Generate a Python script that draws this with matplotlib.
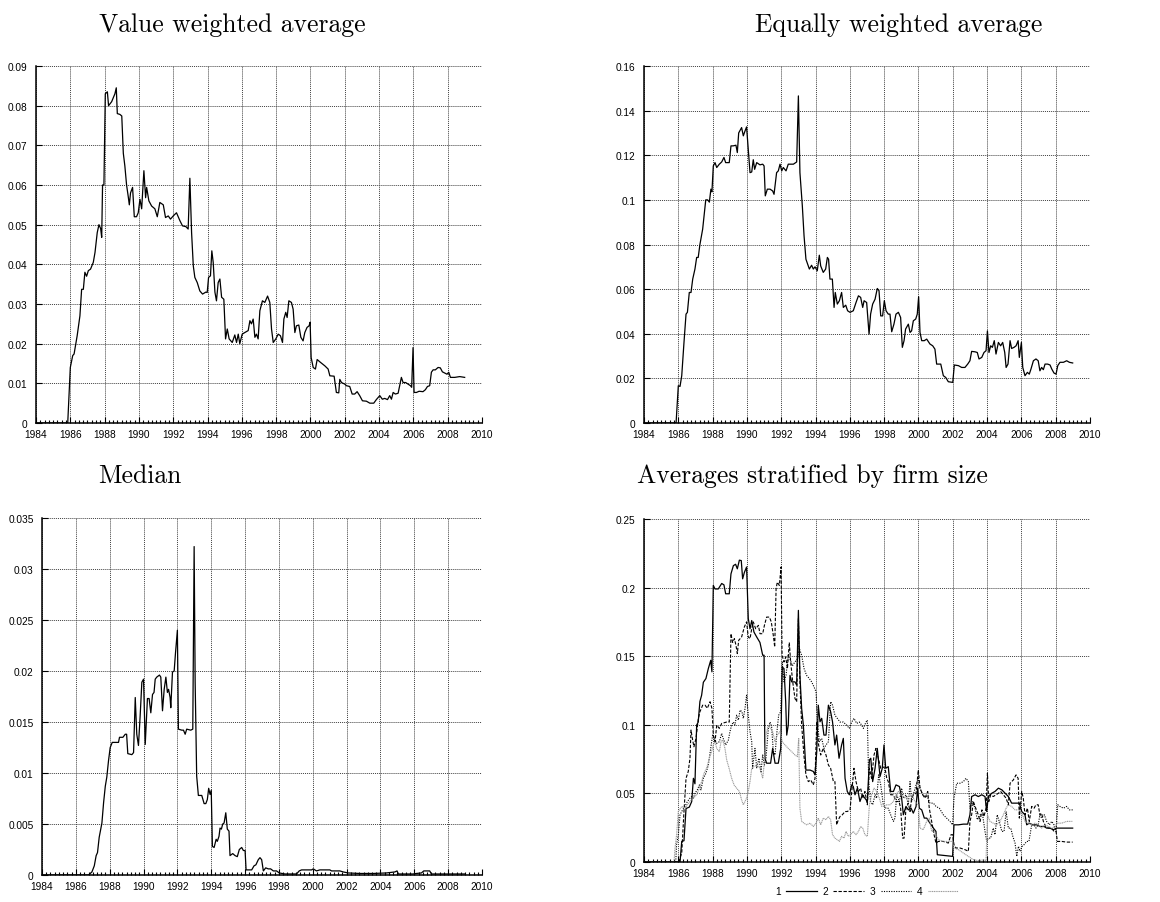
import matplotlib
matplotlib.use("Agg")
import matplotlib.pyplot as plt
from matplotlib.ticker import MultipleLocator, FormatStrFormatter, FuncFormatter

plt.rcParams['font.family'] = ['Liberation Sans', 'DejaVu Sans']

# (year, value) readings for each series
vw_points = [
    (1984.0, 0.0), (1985.85, 0.0), (1986.0, 0.014), (1986.14, 0.017), (1986.22, 0.0174),
    (1986.4, 0.022), (1986.56, 0.027), (1986.66, 0.0337), (1986.76, 0.0337), (1986.85, 0.038),
    (1986.95, 0.037), (1987.05, 0.0384), (1987.18, 0.0388), (1987.34, 0.0405), (1987.44, 0.043),
    (1987.57, 0.048), (1987.67, 0.050), (1987.77, 0.049), (1987.83, 0.0468), (1987.88, 0.060),
    (1987.96, 0.060), (1988.04, 0.083), (1988.16, 0.0835), (1988.23, 0.080), (1988.41, 0.081),
    (1988.6, 0.083), (1988.68, 0.0845), (1988.74, 0.078), (1988.89, 0.0778), (1989.0, 0.0774),
    (1989.09, 0.068), (1989.18, 0.0648), (1989.28, 0.060), (1989.38, 0.057), (1989.44, 0.055),
    (1989.51, 0.058), (1989.63, 0.0594), (1989.73, 0.052), (1989.86, 0.052), (1989.96, 0.053),
    (1990.06, 0.0564), (1990.16, 0.054), (1990.29, 0.0636), (1990.39, 0.0568), (1990.45, 0.0594),
    (1990.58, 0.056), (1990.74, 0.0547), (1990.93, 0.054), (1991.07, 0.052), (1991.22, 0.0556),
    (1991.42, 0.055), (1991.55, 0.0518), (1991.71, 0.0522), (1991.84, 0.0514), (1992.0, 0.0522),
    (1992.19, 0.053), (1992.39, 0.051), (1992.54, 0.0497), (1992.74, 0.0495), (1992.87, 0.0489),
    (1992.97, 0.0617), (1993.07, 0.048), (1993.17, 0.0396), (1993.26, 0.0367), (1993.4, 0.0354),
    (1993.55, 0.0333), (1993.71, 0.0325), (1993.9, 0.033), (1993.98, 0.0329), (1994.06, 0.0367),
    (1994.17, 0.0371), (1994.25, 0.0434), (1994.33, 0.0405), (1994.43, 0.033), (1994.52, 0.0308),
    (1994.62, 0.0354), (1994.72, 0.0363), (1994.82, 0.0317), (1994.95, 0.0312), (1995.05, 0.0212),
    (1995.15, 0.0237), (1995.26, 0.0212), (1995.44, 0.0203), (1995.59, 0.0222), (1995.69, 0.0203),
    (1995.79, 0.0224), (1995.88, 0.020), (1996.02, 0.0224), (1996.17, 0.0228), (1996.37, 0.0233),
    (1996.47, 0.0258), (1996.56, 0.025), (1996.66, 0.0262), (1996.76, 0.0216), (1996.85, 0.0224),
    (1996.95, 0.0212), (1997.05, 0.0283), (1997.2, 0.0308), (1997.34, 0.0304), (1997.5, 0.032),
    (1997.63, 0.0304), (1997.73, 0.0237), (1997.83, 0.0203), (1997.98, 0.0212), (1998.12, 0.0224),
    (1998.25, 0.022), (1998.37, 0.0203), (1998.45, 0.0262), (1998.56, 0.0279), (1998.64, 0.0266),
    (1998.74, 0.0308), (1998.89, 0.0304), (1998.99, 0.0287), (1999.09, 0.0228), (1999.18, 0.0245),
    (1999.32, 0.0247), (1999.44, 0.0216), (1999.57, 0.0207), (1999.67, 0.0228), (1999.8, 0.0241),
    (1999.92, 0.0245), (1999.98, 0.0254), (2000.04, 0.0165), (2000.16, 0.014), (2000.29, 0.0136),
    (2000.39, 0.016), (2000.58, 0.0153), (2000.84, 0.0144), (2001.03, 0.0136), (2001.13, 0.0119),
    (2001.38, 0.0118), (2001.51, 0.0077), (2001.65, 0.0076), (2001.71, 0.011), (2001.81, 0.0102),
    (2002.0, 0.0098), (2002.1, 0.0094), (2002.29, 0.0092), (2002.43, 0.0073), (2002.58, 0.0073),
    (2002.72, 0.0079), (2002.87, 0.0069), (2003.03, 0.0056), (2003.26, 0.0055), (2003.46, 0.005),
    (2003.69, 0.005), (2003.84, 0.0059), (2004.04, 0.0069), (2004.19, 0.006), (2004.33, 0.0062),
    (2004.49, 0.0059), (2004.62, 0.0069), (2004.72, 0.006), (2004.82, 0.0077), (2004.95, 0.0073),
    (2005.11, 0.0075), (2005.2, 0.0094), (2005.3, 0.0115), (2005.4, 0.0102), (2005.55, 0.0102),
    (2005.69, 0.0098), (2005.83, 0.0094), (2005.9, 0.009), (2005.98, 0.019), (2006.04, 0.0077),
    (2006.18, 0.0077), (2006.33, 0.008), (2006.56, 0.0079), (2006.7, 0.0084), (2006.82, 0.0092),
    (2006.95, 0.0094), (2007.05, 0.0128), (2007.15, 0.0134), (2007.28, 0.0134), (2007.44, 0.014),
    (2007.57, 0.0139), (2007.69, 0.0129), (2007.83, 0.0126), (2007.96, 0.0123), (2008.06, 0.0128),
    (2008.16, 0.0115), (2008.41, 0.0115), (2008.7, 0.0117), (2008.99, 0.0115),
]

ew_points = [
    (1984.0, 0.0), (1985.87, 0.0), (1986.0, 0.0167), (1986.1, 0.0164), (1986.2, 0.0212),
    (1986.33, 0.036), (1986.45, 0.0488), (1986.53, 0.0496), (1986.64, 0.0585), (1986.74, 0.0585),
    (1986.84, 0.0645), (1986.97, 0.069), (1987.07, 0.0742), (1987.16, 0.0742), (1987.26, 0.080),
    (1987.42, 0.0869), (1987.5, 0.0928), (1987.6, 0.100), (1987.71, 0.100), (1987.81, 0.099),
    (1987.9, 0.1048), (1987.96, 0.1036), (1988.04, 0.1152), (1988.14, 0.1167), (1988.24, 0.1145),
    (1988.39, 0.116), (1988.53, 0.117), (1988.66, 0.119), (1988.76, 0.1167), (1988.97, 0.1167),
    (1989.07, 0.1242), (1989.2, 0.1242), (1989.36, 0.1245), (1989.44, 0.1212), (1989.52, 0.130),
    (1989.69, 0.1324), (1989.79, 0.1287), (1989.89, 0.1309), (1989.98, 0.1327), (1990.08, 0.1227),
    (1990.18, 0.1122), (1990.28, 0.1125), (1990.37, 0.118), (1990.45, 0.1137), (1990.57, 0.1167),
    (1990.76, 0.1157), (1990.92, 0.116), (1991.0, 0.1152), (1991.07, 0.1018), (1991.19, 0.1048),
    (1991.35, 0.1048), (1991.5, 0.104), (1991.58, 0.1025), (1991.73, 0.1122), (1991.83, 0.113),
    (1991.93, 0.116), (1992.03, 0.113), (1992.12, 0.1145), (1992.28, 0.113), (1992.41, 0.116),
    (1992.71, 0.116), (1992.9, 0.117), (1993.0, 0.1466), (1993.09, 0.1122), (1993.23, 0.0973),
    (1993.33, 0.0839), (1993.44, 0.0734), (1993.54, 0.0712), (1993.64, 0.069), (1993.77, 0.0707),
    (1993.87, 0.069), (1993.97, 0.070), (1994.1, 0.0682), (1994.22, 0.0752), (1994.3, 0.0704),
    (1994.45, 0.0675), (1994.59, 0.069), (1994.69, 0.0742), (1994.76, 0.0734), (1994.84, 0.0645),
    (1994.98, 0.0645), (1995.08, 0.0518), (1995.15, 0.0585), (1995.27, 0.0533), (1995.39, 0.0548),
    (1995.52, 0.0585), (1995.62, 0.0518), (1995.76, 0.0528), (1995.87, 0.0503), (1996.01, 0.0496),
    (1996.2, 0.0503), (1996.36, 0.054), (1996.5, 0.057), (1996.63, 0.0563), (1996.75, 0.0518),
    (1996.83, 0.0548), (1996.98, 0.054), (1997.12, 0.0398), (1997.21, 0.0488), (1997.33, 0.0533),
    (1997.47, 0.0555), (1997.6, 0.0603), (1997.7, 0.0593), (1997.8, 0.048), (1997.91, 0.048),
    (1998.01, 0.0548), (1998.11, 0.0503), (1998.24, 0.0488), (1998.34, 0.0488), (1998.44, 0.0409),
    (1998.57, 0.0443), (1998.69, 0.0488), (1998.83, 0.0496), (1998.96, 0.0473), (1999.06, 0.0339),
    (1999.16, 0.0369), (1999.25, 0.0421), (1999.41, 0.0443), (1999.51, 0.0406), (1999.6, 0.0413),
    (1999.7, 0.0458), (1999.84, 0.0466), (1999.93, 0.0488), (2000.01, 0.0566), (2000.09, 0.0406),
    (2000.19, 0.0369), (2000.34, 0.0369), (2000.48, 0.0376), (2000.67, 0.0354), (2000.83, 0.0346),
    (2000.96, 0.0331), (2001.06, 0.0264), (2001.3, 0.0264), (2001.45, 0.0212), (2001.59, 0.0204),
    (2001.74, 0.0185), (2002.0, 0.0182), (2002.09, 0.026), (2002.33, 0.0257), (2002.52, 0.0249),
    (2002.71, 0.0249), (2002.87, 0.0264), (2003.0, 0.0279), (2003.1, 0.0321), (2003.3, 0.0319),
    (2003.43, 0.0316), (2003.53, 0.0287), (2003.69, 0.0294), (2003.82, 0.0316), (2003.94, 0.0324),
    (2004.02, 0.0413), (2004.11, 0.0316), (2004.21, 0.0346), (2004.31, 0.0339), (2004.42, 0.0369),
    (2004.52, 0.0309), (2004.66, 0.0361), (2004.79, 0.0346), (2004.91, 0.0361), (2005.03, 0.0316),
    (2005.11, 0.0249), (2005.22, 0.0264), (2005.34, 0.0369), (2005.43, 0.0334), (2005.57, 0.0339),
    (2005.69, 0.0346), (2005.81, 0.0369), (2005.88, 0.0294), (2006.0, 0.0361), (2006.08, 0.0249),
    (2006.21, 0.0212), (2006.35, 0.0227), (2006.46, 0.0219), (2006.56, 0.0242), (2006.7, 0.0279),
    (2006.85, 0.0287), (2006.98, 0.0279), (2007.08, 0.0234), (2007.18, 0.0249), (2007.28, 0.0239),
    (2007.38, 0.0264), (2007.53, 0.0264), (2007.67, 0.026), (2007.77, 0.0242), (2007.9, 0.0224),
    (2008.02, 0.0219), (2008.12, 0.0257), (2008.25, 0.0272), (2008.45, 0.0272), (2008.64, 0.0279),
    (2008.8, 0.0272), (2008.99, 0.0269),
]

med_points = [
    (1984.0, 0.0), (1986.75, 0.0), (1986.95, 0.0003), (1987.09, 0.0009), (1987.2, 0.0019),
    (1987.28, 0.0022), (1987.38, 0.0037), (1987.54, 0.0051), (1987.64, 0.0071), (1987.74, 0.0087),
    (1987.83, 0.0096), (1987.93, 0.0112), (1988.03, 0.0125), (1988.15, 0.013), (1988.39, 0.013),
    (1988.52, 0.013), (1988.58, 0.0135), (1988.78, 0.0135), (1988.92, 0.0138), (1989.0, 0.0138),
    (1989.07, 0.0119), (1989.31, 0.0118), (1989.41, 0.012), (1989.51, 0.0174), (1989.6, 0.0138),
    (1989.7, 0.0127), (1989.8, 0.0156), (1989.9, 0.0189), (1990.0, 0.0192), (1990.1, 0.0128),
    (1990.23, 0.0173), (1990.33, 0.0173), (1990.43, 0.0159), (1990.53, 0.0177), (1990.62, 0.0179),
    (1990.69, 0.0192), (1990.78, 0.0194), (1990.94, 0.0196), (1991.02, 0.0194), (1991.12, 0.0161),
    (1991.22, 0.0182), (1991.32, 0.0194), (1991.41, 0.0179), (1991.48, 0.0182), (1991.57, 0.0174),
    (1991.61, 0.0164), (1991.71, 0.0199), (1991.81, 0.020), (1991.89, 0.0218), (1992.0, 0.024),
    (1992.06, 0.0143), (1992.26, 0.0142), (1992.36, 0.0142), (1992.46, 0.0138), (1992.55, 0.0143),
    (1992.79, 0.0142), (1992.91, 0.0143), (1992.99, 0.0322), (1993.05, 0.0189), (1993.14, 0.0097),
    (1993.24, 0.0078), (1993.44, 0.0078), (1993.58, 0.007), (1993.68, 0.007), (1993.77, 0.0074),
    (1993.85, 0.0085), (1993.93, 0.0079), (1994.0, 0.0083), (1994.07, 0.0028), (1994.17, 0.0027),
    (1994.29, 0.0035), (1994.36, 0.0033), (1994.46, 0.0038), (1994.52, 0.0046), (1994.6, 0.0045),
    (1994.68, 0.005), (1994.76, 0.0051), (1994.86, 0.0061), (1994.95, 0.0045), (1995.05, 0.0043),
    (1995.11, 0.0019), (1995.27, 0.0021), (1995.41, 0.0019), (1995.54, 0.0018), (1995.66, 0.0025),
    (1995.8, 0.0027), (1995.9, 0.0024), (1996.0, 0.0024), (1996.06, 0.0005), (1996.39, 0.0005),
    (1996.53, 0.0009), (1996.64, 0.001), (1996.78, 0.0015), (1996.88, 0.0017), (1996.98, 0.0015),
    (1997.08, 0.0004), (1997.22, 0.0007), (1997.37, 0.0006), (1997.51, 0.0006), (1997.67, 0.0004),
    (1997.86, 0.0004), (1998.02, 0.0002), (1998.36, 0.0001), (1999.04, 0.0001), (1999.2, 0.0004),
    (1999.34, 0.0005), (1999.63, 0.0005), (1999.93, 0.0005), (2000.03, 0.0006), (2000.22, 0.0004),
    (2000.42, 0.0005), (2000.91, 0.0005), (2001.01, 0.0005), (2001.11, 0.0004), (2001.6, 0.0004),
    (2001.8, 0.0003), (2002.09, 0.0002), (2002.78, 0.00015), (2003.57, 0.00015), (2004.35, 0.0002),
    (2004.85, 0.0003), (2004.98, 0.0004), (2005.06, 0.0001), (2005.93, 0.0001), (2006.12, 0.00015),
    (2006.42, 0.0002), (2006.56, 0.0004), (2006.91, 0.0004), (2007.01, 0.0001), (2008.98, 0.0001),
]

size1_points = [
    (1984.0, 0.0), (1986.1, 0.0), (1986.2, 0.015), (1986.33, 0.0155), (1986.45, 0.039),
    (1986.64, 0.040), (1986.78, 0.044), (1986.88, 0.061), (1986.97, 0.057), (1987.07, 0.0998),
    (1987.16, 0.102), (1987.26, 0.117), (1987.36, 0.1216), (1987.46, 0.131), (1987.61, 0.1337),
    (1987.75, 0.141), (1987.89, 0.147), (1987.96, 0.1386), (1988.04, 0.2016), (1988.14, 0.199),
    (1988.33, 0.199), (1988.53, 0.203), (1988.66, 0.202), (1988.76, 0.1955), (1988.97, 0.1955),
    (1989.07, 0.21), (1989.21, 0.216), (1989.34, 0.217), (1989.44, 0.2137), (1989.56, 0.220),
    (1989.67, 0.2197), (1989.75, 0.2064), (1989.85, 0.211), (1989.98, 0.215), (1990.08, 0.1773),
    (1990.18, 0.170), (1990.28, 0.176), (1990.41, 0.1676), (1990.57, 0.164), (1990.76, 0.160),
    (1990.92, 0.1507), (1991.0, 0.1507), (1991.05, 0.0756), (1991.15, 0.072), (1991.38, 0.072),
    (1991.5, 0.0828), (1991.64, 0.072), (1991.83, 0.072), (1991.97, 0.0828), (1992.06, 0.142),
    (1992.16, 0.141), (1992.26, 0.1168), (1992.32, 0.0925), (1992.41, 0.0998), (1992.51, 0.136),
    (1992.61, 0.1313), (1992.8, 0.1313), (1992.9, 0.129), (1993.0, 0.1834), (1993.09, 0.136),
    (1993.19, 0.112), (1993.29, 0.0998), (1993.44, 0.067), (1993.68, 0.067), (1993.87, 0.066),
    (1993.97, 0.0635), (1994.07, 0.0804), (1994.16, 0.1143), (1994.26, 0.1022), (1994.36, 0.1047),
    (1994.49, 0.0925), (1994.61, 0.0925), (1994.75, 0.1143), (1994.88, 0.1095), (1994.99, 0.1022),
    (1995.13, 0.0853), (1995.23, 0.0925), (1995.37, 0.0756), (1995.52, 0.0853), (1995.62, 0.0901),
    (1995.72, 0.061), (1995.85, 0.0514), (1995.97, 0.049), (1996.11, 0.0562), (1996.2, 0.055),
    (1996.3, 0.049), (1996.44, 0.0538), (1996.59, 0.0441), (1996.73, 0.049), (1996.88, 0.0465),
    (1997.02, 0.0441), (1997.14, 0.0744), (1997.22, 0.0756), (1997.33, 0.0586), (1997.47, 0.0683),
    (1997.6, 0.0828), (1997.76, 0.0623), (1997.89, 0.0683), (1997.99, 0.0853), (1998.09, 0.0683),
    (1998.24, 0.0695), (1998.38, 0.0514), (1998.54, 0.0514), (1998.69, 0.0562), (1998.89, 0.055),
    (1999.02, 0.0465), (1999.12, 0.0344), (1999.27, 0.0405), (1999.41, 0.038), (1999.57, 0.0392),
    (1999.7, 0.0356), (1999.86, 0.0405), (1999.95, 0.0538), (2000.05, 0.0392), (2000.19, 0.038),
    (2000.34, 0.032), (2000.48, 0.032), (2000.67, 0.0283), (2000.87, 0.0247), (2001.02, 0.0223),
    (2001.1, 0.0053), (2001.45, 0.0048), (2001.99, 0.0041), (2002.07, 0.0271), (2002.33, 0.0271),
    (2002.62, 0.0276), (2002.87, 0.0276), (2003.0, 0.0344), (2003.1, 0.0477), (2003.3, 0.049),
    (2003.49, 0.0477), (2003.69, 0.049), (2003.88, 0.0477), (2003.98, 0.0368), (2004.07, 0.0477),
    (2004.27, 0.0501), (2004.46, 0.0514), (2004.66, 0.0538), (2004.86, 0.0526), (2005.05, 0.0501),
    (2005.24, 0.0477), (2005.43, 0.0429), (2005.63, 0.0429), (2005.88, 0.0429), (2006.02, 0.0368),
    (2006.21, 0.0344), (2006.31, 0.0271), (2006.46, 0.0283), (2006.66, 0.0271), (2006.89, 0.0271),
    (2007.09, 0.0259), (2007.32, 0.0259), (2007.47, 0.0247), (2007.67, 0.0247), (2007.86, 0.0235),
    (2008.06, 0.0247), (2008.45, 0.0247), (2008.99, 0.0247),
]

size2_points = [
    (1984.0, 0.0), (1986.05, 0.0), (1986.1, 0.003), (1986.2, 0.0065), (1986.33, 0.0368),
    (1986.45, 0.061), (1986.58, 0.066), (1986.68, 0.0756), (1986.74, 0.0962), (1986.82, 0.090),
    (1986.91, 0.084), (1987.03, 0.090), (1987.17, 0.1047), (1987.26, 0.1095), (1987.42, 0.1143),
    (1987.56, 0.1143), (1987.69, 0.112), (1987.85, 0.1168), (1987.96, 0.112), (1988.04, 0.0925),
    (1988.14, 0.0877), (1988.24, 0.0998), (1988.39, 0.0974), (1988.53, 0.101), (1988.82, 0.102),
    (1988.97, 0.102), (1989.07, 0.1664), (1989.17, 0.160), (1989.27, 0.1628), (1989.36, 0.158),
    (1989.44, 0.1519), (1989.52, 0.1616), (1989.69, 0.164), (1989.85, 0.1713), (1989.98, 0.175),
    (1990.08, 0.164), (1990.18, 0.1628), (1990.28, 0.170), (1990.37, 0.175), (1990.51, 0.170),
    (1990.67, 0.1725), (1990.76, 0.1664), (1990.92, 0.1664), (1991.02, 0.1725), (1991.15, 0.1785),
    (1991.31, 0.1785), (1991.42, 0.175), (1991.54, 0.165), (1991.62, 0.1567), (1991.7, 0.199),
    (1991.77, 0.204), (1991.89, 0.2016), (1991.99, 0.215), (1992.05, 0.1507), (1992.16, 0.1458),
    (1992.26, 0.1495), (1992.36, 0.141), (1992.47, 0.160), (1992.55, 0.1458), (1992.67, 0.1313),
    (1992.8, 0.1192), (1992.9, 0.1168), (1993.0, 0.1773), (1993.09, 0.1313), (1993.19, 0.0998),
    (1993.33, 0.0768), (1993.44, 0.0635), (1993.58, 0.0586), (1993.72, 0.0598), (1993.87, 0.0562),
    (1993.97, 0.061), (1994.07, 0.1022), (1994.18, 0.0853), (1994.3, 0.078), (1994.45, 0.0828),
    (1994.61, 0.078), (1994.75, 0.0707), (1994.88, 0.0683), (1995.04, 0.0586), (1995.13, 0.0586),
    (1995.23, 0.0271), (1995.33, 0.0308), (1995.43, 0.0332), (1995.56, 0.0344), (1995.72, 0.0368),
    (1995.85, 0.0368), (1996.01, 0.038), (1996.11, 0.0514), (1996.24, 0.0683), (1996.36, 0.0586),
    (1996.5, 0.0514), (1996.63, 0.0538), (1996.75, 0.0465), (1996.88, 0.0514), (1997.02, 0.0417),
    (1997.14, 0.0683), (1997.27, 0.061), (1997.41, 0.078), (1997.52, 0.0828), (1997.66, 0.0756),
    (1997.8, 0.0683), (1997.91, 0.0695), (1998.05, 0.0683), (1998.15, 0.061), (1998.24, 0.0586),
    (1998.38, 0.049), (1998.54, 0.049), (1998.69, 0.0441), (1998.87, 0.0441), (1998.96, 0.0392),
    (1999.08, 0.0174), (1999.16, 0.0174), (1999.27, 0.0392), (1999.41, 0.0429), (1999.51, 0.0368),
    (1999.6, 0.0465), (1999.7, 0.049), (1999.86, 0.0501), (1999.99, 0.0671), (2000.09, 0.0538),
    (2000.25, 0.049), (2000.38, 0.0465), (2000.54, 0.0514), (2000.63, 0.0392), (2000.77, 0.0296),
    (2000.91, 0.0199), (2001.02, 0.0138), (2001.16, 0.015), (2001.45, 0.015), (2001.74, 0.0138),
    (2001.9, 0.0199), (2001.99, 0.0199), (2002.07, 0.0126), (2002.19, 0.0102), (2002.42, 0.0102),
    (2002.71, 0.009), (2002.91, 0.0078), (2003.0, 0.0296), (2003.1, 0.0344), (2003.2, 0.0441),
    (2003.34, 0.0392), (2003.49, 0.0344), (2003.59, 0.0296), (2003.7, 0.038), (2003.82, 0.0332),
    (2003.94, 0.0392), (2004.02, 0.0647), (2004.1, 0.0441), (2004.21, 0.049), (2004.36, 0.0477),
    (2004.52, 0.049), (2004.66, 0.0501), (2004.79, 0.0514), (2004.95, 0.049), (2005.11, 0.0465),
    (2005.24, 0.0417), (2005.34, 0.0574), (2005.53, 0.0598), (2005.69, 0.0635), (2005.81, 0.061),
    (2005.88, 0.032), (2006.02, 0.0514), (2006.11, 0.0465), (2006.21, 0.0344), (2006.35, 0.0392),
    (2006.46, 0.0296), (2006.6, 0.0405), (2006.74, 0.0392), (2006.85, 0.0417), (2006.98, 0.0417),
    (2007.08, 0.0344), (2007.18, 0.0356), (2007.28, 0.0296), (2007.42, 0.0259), (2007.58, 0.0247),
    (2007.77, 0.0247), (2007.9, 0.0223), (2008.02, 0.0223), (2008.1, 0.015), (2008.35, 0.015),
    (2008.64, 0.0145), (2008.99, 0.0145),
]

size3_points = [
    (1984.0, 0.0), (1985.85, 0.0), (1985.9, 0.0126), (1986.0, 0.0199), (1986.1, 0.0344),
    (1986.25, 0.038), (1986.39, 0.0405), (1986.53, 0.0441), (1986.68, 0.0465), (1986.78, 0.0477),
    (1986.88, 0.0465), (1986.97, 0.0501), (1987.11, 0.0526), (1987.23, 0.0562), (1987.32, 0.0526),
    (1987.46, 0.061), (1987.61, 0.0647), (1987.75, 0.0707), (1987.89, 0.0828), (1988.0, 0.0925),
    (1988.1, 0.090), (1988.24, 0.0865), (1988.39, 0.0877), (1988.53, 0.0937), (1988.62, 0.090),
    (1988.76, 0.0853), (1988.92, 0.0889), (1989.01, 0.095), (1989.11, 0.0998), (1989.21, 0.102),
    (1989.3, 0.0998), (1989.4, 0.107), (1989.5, 0.1034), (1989.6, 0.1107), (1989.71, 0.1095),
    (1989.79, 0.1047), (1989.89, 0.112), (1989.98, 0.1216), (1990.08, 0.107), (1990.18, 0.095),
    (1990.28, 0.0877), (1990.33, 0.0683), (1990.47, 0.0828), (1990.57, 0.0683), (1990.7, 0.0756),
    (1990.82, 0.0659), (1990.92, 0.078), (1991.02, 0.0707), (1991.11, 0.0756), (1991.25, 0.0974),
    (1991.35, 0.102), (1991.44, 0.0986), (1991.54, 0.0804), (1991.64, 0.078), (1991.73, 0.0925),
    (1991.85, 0.107), (1991.97, 0.1095), (1992.06, 0.1458), (1992.16, 0.1313), (1992.28, 0.136),
    (1992.41, 0.1507), (1992.51, 0.148), (1992.65, 0.143), (1992.8, 0.1458), (1992.94, 0.148),
    (1993.06, 0.1555), (1993.19, 0.1507), (1993.33, 0.141), (1993.48, 0.136), (1993.64, 0.1337),
    (1993.77, 0.1313), (1993.91, 0.1277), (1994.03, 0.124), (1994.1, 0.1047), (1994.22, 0.0877),
    (1994.36, 0.090), (1994.49, 0.0828), (1994.61, 0.0853), (1994.75, 0.0877), (1994.88, 0.1168),
    (1994.99, 0.1143), (1995.13, 0.107), (1995.27, 0.1047), (1995.43, 0.102), (1995.62, 0.102),
    (1995.81, 0.0998), (1995.97, 0.0974), (1996.11, 0.102), (1996.24, 0.1047), (1996.4, 0.101),
    (1996.55, 0.102), (1996.69, 0.0998), (1996.79, 0.0974), (1996.94, 0.102), (1997.02, 0.1034),
    (1997.1, 0.0586), (1997.21, 0.0441), (1997.33, 0.0417), (1997.47, 0.049), (1997.56, 0.0465),
    (1997.68, 0.0635), (1997.8, 0.0562), (1997.95, 0.0417), (1998.11, 0.0392), (1998.24, 0.0392),
    (1998.38, 0.0344), (1998.54, 0.0296), (1998.63, 0.032), (1998.73, 0.049), (1998.89, 0.0441),
    (1999.02, 0.0538), (1999.12, 0.0465), (1999.27, 0.049), (1999.41, 0.0417), (1999.51, 0.0586),
    (1999.6, 0.0441), (1999.7, 0.049), (1999.86, 0.0562), (1999.99, 0.061), (2000.09, 0.0538),
    (2000.25, 0.049), (2000.38, 0.0477), (2000.52, 0.0477), (2000.67, 0.0429), (2000.87, 0.0429),
    (2001.02, 0.0405), (2001.22, 0.0392), (2001.45, 0.0344), (2001.64, 0.032), (2001.84, 0.0296),
    (2001.99, 0.0271), (2002.07, 0.0465), (2002.23, 0.0574), (2002.42, 0.0574), (2002.62, 0.0586),
    (2002.77, 0.061), (2002.91, 0.0586), (2003.0, 0.0392), (2003.16, 0.0441), (2003.3, 0.0392),
    (2003.43, 0.0308), (2003.59, 0.0344), (2003.74, 0.0344), (2003.88, 0.0223), (2003.98, 0.015),
    (2004.07, 0.0174), (2004.21, 0.0174), (2004.36, 0.0247), (2004.46, 0.0199), (2004.59, 0.0344),
    (2004.71, 0.0296), (2004.86, 0.0223), (2004.99, 0.0223), (2005.11, 0.0368), (2005.24, 0.0247),
    (2005.38, 0.0247), (2005.5, 0.0187), (2005.63, 0.0138), (2005.73, 0.0041), (2005.83, 0.0114),
    (2005.92, 0.0078), (2006.04, 0.0114), (2006.15, 0.0126), (2006.31, 0.015), (2006.44, 0.015),
    (2006.6, 0.0271), (2006.74, 0.0271), (2006.85, 0.0247), (2006.98, 0.0271), (2007.08, 0.0344),
    (2007.18, 0.032), (2007.34, 0.0344), (2007.47, 0.0296), (2007.63, 0.0271), (2007.77, 0.0296),
    (2007.9, 0.0271), (2008.02, 0.0223), (2008.12, 0.0417), (2008.25, 0.0405), (2008.45, 0.0392),
    (2008.64, 0.0405), (2008.8, 0.038), (2008.99, 0.038),
]

size4_points = [
    (1984.0, 0.0), (1985.75, 0.0), (1985.81, 0.0102), (1985.9, 0.0199), (1986.0, 0.0368),
    (1986.2, 0.0405), (1986.39, 0.0392), (1986.53, 0.0417), (1986.68, 0.0441), (1986.88, 0.0465),
    (1987.07, 0.049), (1987.23, 0.0538), (1987.36, 0.0586), (1987.5, 0.0647), (1987.65, 0.0683),
    (1987.81, 0.0756), (1987.94, 0.0804), (1988.04, 0.0853), (1988.14, 0.0877), (1988.24, 0.0828),
    (1988.39, 0.0804), (1988.49, 0.0877), (1988.59, 0.0889), (1988.72, 0.0828), (1988.82, 0.0744),
    (1988.96, 0.0683), (1989.11, 0.061), (1989.25, 0.0562), (1989.4, 0.0538), (1989.56, 0.0514),
    (1989.69, 0.0453), (1989.79, 0.0417), (1989.89, 0.0441), (1989.98, 0.0465), (1990.08, 0.0514),
    (1990.18, 0.0586), (1990.28, 0.0683), (1990.41, 0.0695), (1990.57, 0.0707), (1990.76, 0.0683),
    (1990.92, 0.061), (1991.02, 0.0732), (1991.11, 0.0925), (1991.25, 0.0998), (1991.38, 0.0974),
    (1991.5, 0.095), (1991.64, 0.0877), (1991.77, 0.0925), (1991.93, 0.095), (1992.06, 0.0877),
    (1992.22, 0.0853), (1992.41, 0.0828), (1992.61, 0.0804), (1992.8, 0.078), (1992.94, 0.0768),
    (1993.02, 0.090), (1993.09, 0.0392), (1993.19, 0.0296), (1993.33, 0.0283), (1993.48, 0.0271),
    (1993.68, 0.0283), (1993.87, 0.0259), (1994.03, 0.0283), (1994.16, 0.032), (1994.3, 0.0271),
    (1994.45, 0.032), (1994.61, 0.0308), (1994.75, 0.0332), (1994.88, 0.0308), (1994.99, 0.0199),
    (1995.13, 0.0174), (1995.27, 0.0162), (1995.39, 0.015), (1995.52, 0.0187), (1995.66, 0.0174),
    (1995.78, 0.0223), (1995.91, 0.0187), (1996.05, 0.0199), (1996.2, 0.0223), (1996.36, 0.0199),
    (1996.5, 0.0223), (1996.63, 0.0259), (1996.75, 0.0247), (1996.88, 0.0199), (1997.02, 0.0187),
    (1997.14, 0.0417), (1997.27, 0.049), (1997.41, 0.0538), (1997.56, 0.0514), (1997.72, 0.0465),
    (1997.86, 0.0405), (1997.99, 0.0405), (1998.15, 0.0417), (1998.34, 0.0417), (1998.54, 0.0441),
    (1998.69, 0.049), (1998.83, 0.0514), (1999.02, 0.049), (1999.22, 0.0465), (1999.41, 0.0477),
    (1999.6, 0.049), (1999.8, 0.0441), (1999.99, 0.0417), (2000.09, 0.0247), (2000.28, 0.0235),
    (2000.48, 0.0296), (2000.63, 0.032), (2000.77, 0.0223), (2000.91, 0.0223), (2001.02, 0.0199),
    (2001.16, 0.0162), (2001.45, 0.015), (2001.74, 0.015), (2001.99, 0.015), (2002.07, 0.0102),
    (2002.33, 0.009), (2002.62, 0.0065), (2002.91, 0.0041), (2003.2, 0.0017), (2003.49, 0.001),
    (2003.78, 0.0015), (2003.94, 0.001), (2004.02, 0.0344), (2004.17, 0.0296), (2004.36, 0.0283),
    (2004.56, 0.0271), (2004.75, 0.0296), (2004.95, 0.0344), (2005.11, 0.0392), (2005.24, 0.0417),
    (2005.43, 0.0405), (2005.63, 0.038), (2005.88, 0.038), (2006.02, 0.0356), (2006.21, 0.0296),
    (2006.41, 0.0283), (2006.6, 0.0271), (2006.8, 0.0283), (2006.98, 0.0271), (2007.18, 0.0247),
    (2007.38, 0.0271), (2007.58, 0.0259), (2007.77, 0.0247), (2007.96, 0.0259), (2008.1, 0.0283),
    (2008.35, 0.0283), (2008.64, 0.0296), (2008.99, 0.0296),
]

size_labels = ['1', '2', '3', '4']

W, H = 1160, 903
fig = plt.figure(figsize=(W / 100, H / 100), dpi=100)


def px_axes(left, top, right, bottom):
    return fig.add_axes([left / W, 1 - bottom / H, (right - left) / W, (bottom - top) / H])


def style_axes(ax, ymax, ystep):
    ax.set_xlim(1984, 2010)
    ax.set_ylim(0, ymax)
    ax.xaxis.set_major_locator(MultipleLocator(2))
    ax.xaxis.set_minor_locator(MultipleLocator(0.25))
    ax.yaxis.set_major_locator(MultipleLocator(ystep))
    ax.yaxis.set_major_formatter(FuncFormatter(lambda v, p: '%g' % round(v, 6)))
    ax.xaxis.set_major_formatter(FormatStrFormatter('%d'))
    ax.tick_params(which='both', direction='in', top=False, right=False,
                   labelsize=7.3, width=0.8)
    ax.tick_params(axis='x', pad=4)
    ax.tick_params(axis='y', pad=6)
    ax.tick_params(which='major', length=4)
    ax.tick_params(which='minor', length=2.5)
    ax.spines['top'].set_visible(False)
    ax.spines['right'].set_visible(False)
    ax.spines['left'].set_linewidth(1.1)
    ax.spines['bottom'].set_linewidth(1.1)
    ax.grid(True, which='major', color='0.25', linestyle=(0, (1, 1)), linewidth=0.7)
    ax.set_axisbelow(True)


def split(points):
    return [p[0] for p in points], [p[1] for p in points]


title_kw = dict(fontfamily='cmr10', fontsize=18.5, ha='center', va='baseline')

# Value weighted average
ax1 = px_axes(36, 67, 482, 424)
style_axes(ax1, 0.09, 0.01)
ax1.plot(*split(vw_points), color='black', lw=0.9)
fig.text(232 / W, 1 - 32 / H, 'Value weighted average', **title_kw)

# Equally weighted average
ax2 = px_axes(644, 67, 1090, 424)
style_axes(ax2, 0.16, 0.02)
ax2.plot(*split(ew_points), color='black', lw=0.9)
fig.text(899 / W, 1 - 32 / H, 'Equally weighted average', **title_kw)

# Median
ax3 = px_axes(42, 519, 482, 876)
style_axes(ax3, 0.035, 0.005)
ax3.plot(*split(med_points), color='black', lw=0.9)
fig.text(140 / W, 1 - 483 / H, 'Median', **title_kw)

# Averages by firm size
ax4 = px_axes(644, 520, 1090, 863)
style_axes(ax4, 0.25, 0.05)
size_series = [size1_points, size2_points, size3_points, size4_points]
size_styles = [
    dict(color='black', lw=0.9, linestyle='-'),
    dict(color='black', lw=0.8, linestyle=(0, (3, 1.5))),
    dict(color='black', lw=0.8, linestyle=(0, (1, 1.2))),
    dict(color='0.6', lw=0.8, linestyle=(0, (1, 0.6))),
]
for pts, lab, st in zip(size_series, size_labels, size_styles):
    ax4.plot(*split(pts), label=lab, **st)
fig.text(812 / W, 1 - 483 / H, 'Averages stratified by firm size', **title_kw)
ax4.legend(loc='center', bbox_to_anchor=(0.5, -0.085), ncol=4, frameon=False,
           markerfirst=False, fontsize=7.3, handlelength=3.0, handletextpad=0.5,
           columnspacing=0.6, borderpad=0)

fig.savefig('out.png', dpi=100)
